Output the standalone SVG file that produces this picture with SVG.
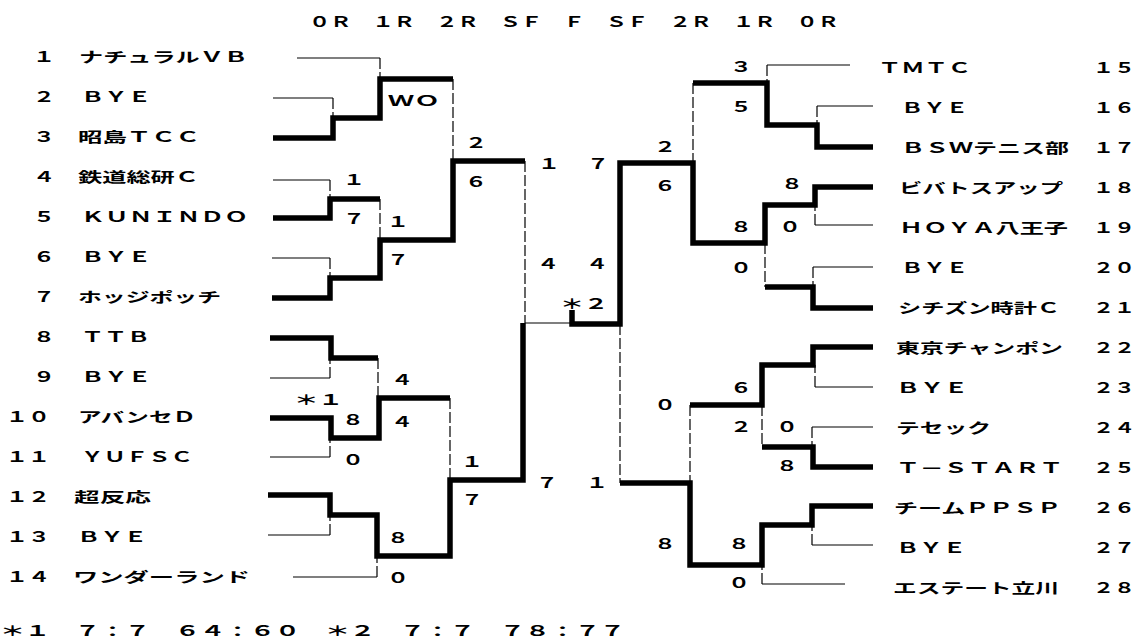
<svg xmlns="http://www.w3.org/2000/svg" width="1140" height="644" viewBox="0 0 1140 644">
<style>
text{font-family:"Noto Sans CJK JP","Noto Sans CJK SC",sans-serif;font-size:14px;font-weight:bold;fill:#000}
.thick{fill:none;stroke:#000;stroke-width:5.5;stroke-linejoin:miter;stroke-linecap:butt}
.thin{fill:none;stroke:#000;stroke-width:1.2}
.dash{fill:none;stroke:#000;stroke-width:1.2;stroke-dasharray:11 3}
</style>
<rect width="1140" height="644" fill="#fff"/>
<g id="header">
<text x="309" y="27" textLength="530" lengthAdjust="spacingAndGlyphs">０Ｒ　１Ｒ　２Ｒ　ＳＦ　Ｆ　ＳＦ　２Ｒ　１Ｒ　０Ｒ</text>
</g>
<g id="team-1"><text x="33" y="62" textLength="22" lengthAdjust="spacingAndGlyphs">１</text><text x="79" y="62" textLength="169" lengthAdjust="spacingAndGlyphs">ナチュラルＶＢ</text></g>
<g id="team-2"><text x="33" y="102" textLength="22" lengthAdjust="spacingAndGlyphs">２</text><text x="81" y="102" textLength="70" lengthAdjust="spacingAndGlyphs">ＢＹＥ</text></g>
<g id="team-3"><text x="33" y="142" textLength="22" lengthAdjust="spacingAndGlyphs">３</text><text x="78" y="142" textLength="122" lengthAdjust="spacingAndGlyphs">昭島ＴＣＣ</text></g>
<g id="team-4"><text x="33" y="182" textLength="22" lengthAdjust="spacingAndGlyphs">４</text><text x="78" y="182" textLength="121" lengthAdjust="spacingAndGlyphs">鉄道総研Ｃ</text></g>
<g id="team-5"><text x="33" y="222" textLength="22" lengthAdjust="spacingAndGlyphs">５</text><text x="81" y="222" textLength="167" lengthAdjust="spacingAndGlyphs">ＫＵＮＩＮＤＯ</text></g>
<g id="team-6"><text x="33" y="262" textLength="22" lengthAdjust="spacingAndGlyphs">６</text><text x="81" y="262" textLength="70" lengthAdjust="spacingAndGlyphs">ＢＹＥ</text></g>
<g id="team-7"><text x="33" y="302" textLength="22" lengthAdjust="spacingAndGlyphs">７</text><text x="78" y="302" textLength="143" lengthAdjust="spacingAndGlyphs">ホッジポッチ</text></g>
<g id="team-8"><text x="33" y="342" textLength="22" lengthAdjust="spacingAndGlyphs">８</text><text x="81" y="342" textLength="69" lengthAdjust="spacingAndGlyphs">ＴＴＢ</text></g>
<g id="team-9"><text x="33" y="382" textLength="22" lengthAdjust="spacingAndGlyphs">９</text><text x="81" y="382" textLength="70" lengthAdjust="spacingAndGlyphs">ＢＹＥ</text></g>
<g id="team-10"><text x="6" y="422" textLength="44" lengthAdjust="spacingAndGlyphs">１０</text><text x="78" y="422" textLength="118" lengthAdjust="spacingAndGlyphs">アバンセＤ</text></g>
<g id="team-11"><text x="6" y="462" textLength="44" lengthAdjust="spacingAndGlyphs">１１</text><text x="81" y="462" textLength="112" lengthAdjust="spacingAndGlyphs">ＹＵＦＳＣ</text></g>
<g id="team-12"><text x="6" y="502" textLength="44" lengthAdjust="spacingAndGlyphs">１２</text><text x="74" y="502" textLength="77" lengthAdjust="spacingAndGlyphs">超反応</text></g>
<g id="team-13"><text x="6" y="542" textLength="44" lengthAdjust="spacingAndGlyphs">１３</text><text x="77" y="542" textLength="70" lengthAdjust="spacingAndGlyphs">ＢＹＥ</text></g>
<g id="team-14"><text x="6" y="582" textLength="44" lengthAdjust="spacingAndGlyphs">１４</text><text x="73" y="582" textLength="177" lengthAdjust="spacingAndGlyphs">ワンダーランド</text></g>
<g id="team-15"><text x="878" y="73" textLength="93" lengthAdjust="spacingAndGlyphs">ＴＭＴＣ</text><text x="1093" y="73" textLength="42" lengthAdjust="spacingAndGlyphs">１５</text></g>
<g id="team-16"><text x="901" y="113" textLength="67" lengthAdjust="spacingAndGlyphs">ＢＹＥ</text><text x="1093" y="113" textLength="42" lengthAdjust="spacingAndGlyphs">１６</text></g>
<g id="team-17"><text x="901" y="153" textLength="168" lengthAdjust="spacingAndGlyphs">ＢＳＷテニス部</text><text x="1093" y="153" textLength="42" lengthAdjust="spacingAndGlyphs">１７</text></g>
<g id="team-18"><text x="899" y="193" textLength="164" lengthAdjust="spacingAndGlyphs">ビバトスアップ</text><text x="1093" y="193" textLength="42" lengthAdjust="spacingAndGlyphs">１８</text></g>
<g id="team-19"><text x="899" y="233" textLength="169" lengthAdjust="spacingAndGlyphs">ＨＯＹＡ八王子</text><text x="1093" y="233" textLength="42" lengthAdjust="spacingAndGlyphs">１９</text></g>
<g id="team-20"><text x="901" y="273" textLength="67" lengthAdjust="spacingAndGlyphs">ＢＹＥ</text><text x="1093" y="273" textLength="42" lengthAdjust="spacingAndGlyphs">２０</text></g>
<g id="team-21"><text x="898" y="313" textLength="162" lengthAdjust="spacingAndGlyphs">シチズン時計Ｃ</text><text x="1093" y="313" textLength="42" lengthAdjust="spacingAndGlyphs">２１</text></g>
<g id="team-22"><text x="896" y="353" textLength="167" lengthAdjust="spacingAndGlyphs">東京チャンポン</text><text x="1093" y="353" textLength="42" lengthAdjust="spacingAndGlyphs">２２</text></g>
<g id="team-23"><text x="896" y="393" textLength="72" lengthAdjust="spacingAndGlyphs">ＢＹＥ</text><text x="1093" y="393" textLength="42" lengthAdjust="spacingAndGlyphs">２３</text></g>
<g id="team-24"><text x="896" y="433" textLength="95" lengthAdjust="spacingAndGlyphs">テセック</text><text x="1093" y="433" textLength="42" lengthAdjust="spacingAndGlyphs">２４</text></g>
<g id="team-25"><text x="896" y="473" textLength="167" lengthAdjust="spacingAndGlyphs">Ｔ－ＳＴＡＲＴ</text><text x="1093" y="473" textLength="42" lengthAdjust="spacingAndGlyphs">２５</text></g>
<g id="team-26"><text x="894" y="513" textLength="167" lengthAdjust="spacingAndGlyphs">チームＰＰＳＰ</text><text x="1093" y="513" textLength="42" lengthAdjust="spacingAndGlyphs">２６</text></g>
<g id="team-27"><text x="896" y="553" textLength="70" lengthAdjust="spacingAndGlyphs">ＢＹＥ</text><text x="1093" y="553" textLength="42" lengthAdjust="spacingAndGlyphs">２７</text></g>
<g id="team-28"><text x="893" y="593" textLength="166" lengthAdjust="spacingAndGlyphs">エステート立川</text><text x="1093" y="593" textLength="42" lengthAdjust="spacingAndGlyphs">２８</text></g>
<g id="connectors">
<polyline class="thick" points="273,138 333,138 333,118 380,118 380,79 453,79"/>
<polyline class="thick" points="273,218 330,218 330,199 380,199"/>
<polyline class="thick" points="272,298 330,298 330,278 380,278 380,240 453,240 453,161 525,161"/>
<polyline class="thick" points="270,338 331,338 331,358 378,358"/>
<polyline class="thick" points="270,418 331,418 331,438 379,438 379,398 450,398"/>
<polyline class="thick" points="268,495 330,495 330,515 377,515 377,556 450,556 450,480 523,480 523,323"/>
<path class="thin" d="M297,58H380M273,98H333M273,180H330M272,258H330M270,378H330M270,457H330M268,535H330M293,577H377M525,323H571"/>
<path class="dash" d="M380,58V79M333,98V118M330,180V199M380,199V240M330,258V278M453,79V161M330,378V358M378,358V398M330,457V438M450,398V480M330,535V515M377,577V556M525,161V323"/>
<polyline class="thick" points="572,310 572,324 620,324 620,163 693,163 693,243 765,243 765,205 815,205 815,187 873,187"/>
<polyline class="thick" points="693,83 767,83 767,125 817,125 817,147 873,147"/>
<polyline class="thick" points="765,287 813,287 813,308 873,308"/>
<polyline class="thick" points="690,405 762,405 762,365 813,365 813,347 873,347"/>
<polyline class="thick" points="762,447 813,447 813,467 873,467"/>
<polyline class="thick" points="620,483 690,483 690,565 762,565 762,525 812,525 812,506 873,506"/>
<path class="thin" d="M767,65H850M817,106H873M815,225H873M813,267H873M815,387H873M812,427H873M812,545H873M762,584H845"/>
<path class="dash" d="M767,65V83M817,106V125M693,83V163M815,225V205M765,243V287M813,267V287M620,324V483M815,387V365M762,405V447M812,427V447M690,405V483M812,545V525M762,584V565"/>
</g>
<g id="scores">
<text x="388" y="106" textLength="52" lengthAdjust="spacingAndGlyphs">ＷＯ</text>
<text x="343" y="185" textLength="22" lengthAdjust="spacingAndGlyphs">１</text>
<text x="343" y="224" textLength="22" lengthAdjust="spacingAndGlyphs">７</text>
<text x="387" y="227" textLength="22" lengthAdjust="spacingAndGlyphs">１</text>
<text x="387" y="265" textLength="22" lengthAdjust="spacingAndGlyphs">７</text>
<text x="465" y="148" textLength="22" lengthAdjust="spacingAndGlyphs">２</text>
<text x="465" y="187" textLength="22" lengthAdjust="spacingAndGlyphs">６</text>
<text x="294" y="405" textLength="49" lengthAdjust="spacingAndGlyphs">＊１</text>
<text x="342" y="425" textLength="22" lengthAdjust="spacingAndGlyphs">８</text>
<text x="342" y="465" textLength="22" lengthAdjust="spacingAndGlyphs">０</text>
<text x="391" y="385" textLength="22" lengthAdjust="spacingAndGlyphs">４</text>
<text x="391" y="427" textLength="22" lengthAdjust="spacingAndGlyphs">４</text>
<text x="461" y="467" textLength="22" lengthAdjust="spacingAndGlyphs">１</text>
<text x="461" y="505" textLength="22" lengthAdjust="spacingAndGlyphs">７</text>
<text x="387" y="543" textLength="22" lengthAdjust="spacingAndGlyphs">８</text>
<text x="387" y="583" textLength="22" lengthAdjust="spacingAndGlyphs">０</text>
<text x="538" y="169" textLength="22" lengthAdjust="spacingAndGlyphs">１</text>
<text x="587" y="169" textLength="22" lengthAdjust="spacingAndGlyphs">７</text>
<text x="537" y="269" textLength="22" lengthAdjust="spacingAndGlyphs">４</text>
<text x="586" y="269" textLength="22" lengthAdjust="spacingAndGlyphs">４</text>
<text x="560" y="309" textLength="48" lengthAdjust="spacingAndGlyphs">＊２</text>
<text x="536" y="488" textLength="22" lengthAdjust="spacingAndGlyphs">７</text>
<text x="586" y="488" textLength="22" lengthAdjust="spacingAndGlyphs">１</text>
<text x="730" y="72" textLength="22" lengthAdjust="spacingAndGlyphs">３</text>
<text x="730" y="112" textLength="22" lengthAdjust="spacingAndGlyphs">５</text>
<text x="654" y="152" textLength="22" lengthAdjust="spacingAndGlyphs">２</text>
<text x="654" y="191" textLength="22" lengthAdjust="spacingAndGlyphs">６</text>
<text x="781" y="189" textLength="22" lengthAdjust="spacingAndGlyphs">８</text>
<text x="779" y="232" textLength="22" lengthAdjust="spacingAndGlyphs">０</text>
<text x="730" y="232" textLength="22" lengthAdjust="spacingAndGlyphs">８</text>
<text x="730" y="273" textLength="22" lengthAdjust="spacingAndGlyphs">０</text>
<text x="654" y="410" textLength="22" lengthAdjust="spacingAndGlyphs">０</text>
<text x="730" y="393" textLength="22" lengthAdjust="spacingAndGlyphs">６</text>
<text x="730" y="432" textLength="22" lengthAdjust="spacingAndGlyphs">２</text>
<text x="776" y="432" textLength="22" lengthAdjust="spacingAndGlyphs">０</text>
<text x="776" y="471" textLength="22" lengthAdjust="spacingAndGlyphs">８</text>
<text x="654" y="549" textLength="22" lengthAdjust="spacingAndGlyphs">８</text>
<text x="728" y="549" textLength="22" lengthAdjust="spacingAndGlyphs">８</text>
<text x="728" y="588" textLength="22" lengthAdjust="spacingAndGlyphs">０</text>
</g>
<g id="footer">
<text x="0" y="636" textLength="625" lengthAdjust="spacingAndGlyphs">＊１　７：７　６４：６０　＊２　７：７　７８：７７</text>
</g>
</svg>
